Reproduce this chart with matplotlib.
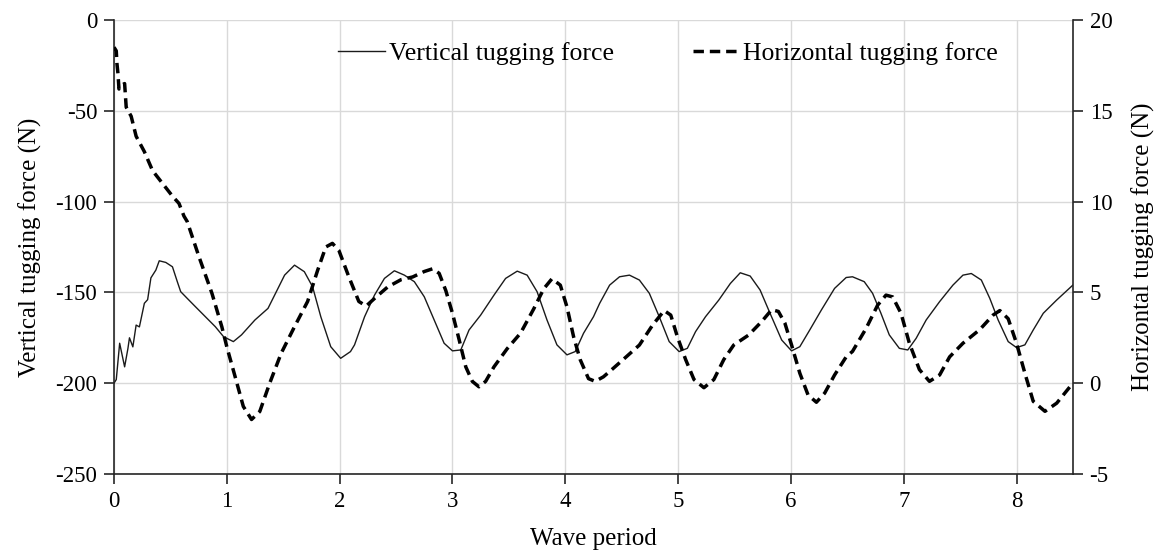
import matplotlib.pyplot as plt

plt.rcParams['font.family'] = ['Liberation Serif', 'DejaVu Serif']
plt.rcParams['axes.unicode_minus'] = False

# Vertical tugging force (left axis, N) vs wave period
vert_x = [0.0, 0.02, 0.05, 0.094, 0.123, 0.137, 0.167, 0.196, 0.225, 0.269, 0.298, 0.327,
          0.371, 0.401, 0.459, 0.518, 0.561, 0.591, 0.649, 0.722, 0.81, 0.898, 0.971, 1.058,
          1.13, 1.249, 1.365, 1.439, 1.512, 1.6, 1.687, 1.76, 1.833, 1.921, 2.009, 2.096,
          2.132, 2.221, 2.309, 2.397, 2.485, 2.574, 2.662, 2.75, 2.838, 2.926, 3.0, 3.074,
          3.147, 3.25, 3.368, 3.471, 3.574, 3.662, 3.75, 3.838, 3.926, 4.015, 4.088, 4.162,
          4.25, 4.305, 4.393, 4.481, 4.569, 4.657, 4.745, 4.833, 4.921, 5.009, 5.082, 5.155,
          5.243, 5.361, 5.463, 5.551, 5.639, 5.727, 5.815, 5.918, 6.006, 6.079, 6.167, 6.27,
          6.387, 6.49, 6.546, 6.65, 6.724, 6.798, 6.872, 6.961, 7.036, 7.11, 7.199, 7.318,
          7.436, 7.525, 7.599, 7.688, 7.763, 7.837, 7.926, 8.0, 8.074, 8.148, 8.237, 8.356,
          8.499]
vert_y = [-200, -198, -178, -191, -181, -175, -180, -168, -169, -156, -154, -142,
          -137.7, -132.6, -133.5, -135.9, -144.1, -149.6, -153.3, -157.9, -163.4, -168.9, -174.4, -177.1,
          -173.4, -165.2, -158.8, -149.6, -140.5, -135, -138.6, -146.9, -163.4, -179.9, -186.3, -182.6,
          -178.9, -163.4, -151.5, -142.3, -138.1, -140.5, -144.1, -152.4, -165.2, -178, -182.2, -181.7,
          -170.7, -162.5, -151.5, -142.3, -138.3, -140.5, -149.6, -165.2, -178.9, -184.4, -182.6, -172.5,
          -163.4, -156, -146, -141.4, -140.5, -143.2, -150.5, -163.4, -177.1, -182.6, -180.8, -171.6,
          -163.4, -154.2, -145.1, -139.2, -141, -148.7, -161.5, -176.2, -182.2, -179.9, -170.7, -159.7,
          -147.8, -141.8, -141.4, -144.1, -150.5, -161.5, -173.4, -180.8, -181.7, -175.3, -165.2, -155.1,
          -146, -140.5, -139.6, -143.2, -153.3, -165.2, -177.1, -180.4, -178.9, -170.7, -161.5, -154.2,
          -146]

# Horizontal tugging force (right axis, N)
horiz_x = [0.0, 0.02, 0.026, 0.035, 0.044, 0.065, 0.094, 0.108, 0.152, 0.196, 0.269, 0.342,
           0.43, 0.518, 0.576, 0.62, 0.649, 0.751, 0.868, 0.956, 1.0, 1.073, 1.146, 1.219,
           1.292, 1.38, 1.482, 1.599, 1.716, 1.804, 1.877, 1.936, 1.994, 2.082, 2.17, 2.235,
           2.324, 2.426, 2.544, 2.647, 2.75, 2.824, 2.882, 2.941, 3.0, 3.059, 3.118, 3.176,
           3.235, 3.294, 3.368, 3.485, 3.603, 3.721, 3.809, 3.882, 3.956, 4.015, 4.074, 4.132,
           4.206, 4.265, 4.338, 4.422, 4.54, 4.657, 4.774, 4.877, 4.935, 4.994, 5.067, 5.141,
           5.229, 5.317, 5.405, 5.493, 5.625, 5.742, 5.83, 5.889, 5.947, 6.006, 6.079, 6.152,
           6.226, 6.299, 6.387, 6.49, 6.546, 6.665, 6.769, 6.843, 6.902, 6.976, 7.05, 7.139,
           7.228, 7.318, 7.407, 7.525, 7.674, 7.792, 7.852, 7.926, 8.0, 8.074, 8.148, 8.252,
           8.356, 8.499]
horiz_y = [18.5, 18.3, 17.6, 17.05, 16.2, 16.4, 16.5, 15.2, 14.7, 13.6, 12.75, 11.7,
           11.0, 10.3, 9.9, 9.2, 8.9, 7.0, 4.95, 3.1, 2.0, 0.37, -1.28, -2.0,
           -1.56, 0.0, 1.65, 3.1, 4.5, 6.2, 7.5, 7.7, 7.3, 5.85, 4.5, 4.25,
           4.75, 5.3, 5.7, 5.85, 6.15, 6.3, 6.05, 5.1, 3.85, 2.4, 0.9, 0.1,
           -0.2, 0.1, 0.9, 1.9, 2.75, 4.1, 5.2, 5.75, 5.4, 4.2, 2.55, 1.3,
           0.25, 0.1, 0.35, 0.8, 1.45, 2.1, 3.2, 4.0, 3.75, 2.55, 1.3, 0.2,
           -0.25, 0.2, 1.3, 2.1, 2.65, 3.4, 4.05, 3.95, 3.3, 2.1, 0.55, -0.65,
           -1.05, -0.55, 0.45, 1.45, 1.75, 3.0, 4.3, 4.85, 4.75, 3.85, 2.2, 0.75,
           0.1, 0.45, 1.45, 2.2, 2.95, 3.75, 4.0, 3.55, 2.2, 0.55, -1.0, -1.55,
           -1.1, 0.0]

x_ticks = [0, 1, 2, 3, 4, 5, 6, 7, 8]
left_ticks = [0, -50, -100, -150, -200, -250]
right_ticks = [20, 15, 10, 5, 0, -5]

fig = plt.figure(figsize=(11.73, 5.53), dpi=100)
ax = fig.add_axes([0.0972, 0.1429, 0.8175, 0.8209])
ax2 = ax.twinx()

l1, = ax.plot(vert_x, vert_y, color='#1a1a1a', lw=1.0, label='Vertical tugging force')
l2, = ax2.plot(horiz_x, horiz_y, color='black', lw=2.5, linestyle=(0, (3.0, 1.7)),
               label='Horizontal tugging force')

ax.set_xlim(0, 8.5)
ax.set_ylim(-250, 0)
ax2.set_ylim(-5, 20)
ax.set_xticks(x_ticks)
ax.set_yticks(left_ticks)
ax2.set_yticks(right_ticks)

ax.grid(True, color='#d9d9d9', lw=1.0)
ax.set_axisbelow(True)

for a in (ax, ax2):
    a.spines['top'].set_visible(False)
    for s in ('left', 'right', 'bottom'):
        a.spines[s].set_color('#262626')
        a.spines[s].set_linewidth(1.2)
    a.tick_params(labelsize=16.5, length=7, width=1.2, color='#262626', direction='out', pad=5)
ax.spines['right'].set_visible(False)
ax2.spines['left'].set_visible(False)
ax2.spines['bottom'].set_visible(False)

ax.set_xlabel('Wave period', fontsize=18, labelpad=12)
ax.set_ylabel('Vertical tugging force (N)', fontsize=18, labelpad=10)
ax2.set_ylabel('Horizontal tugging force (N)', fontsize=18, labelpad=14)

ax2.legend(handles=[l1, l2], loc='center', bbox_to_anchor=(0.578, 0.927), ncol=2,
           frameon=False, fontsize=18.5, handlelength=1.8, columnspacing=3.1, handletextpad=0.15)

fig.savefig('out.png', dpi=100)
